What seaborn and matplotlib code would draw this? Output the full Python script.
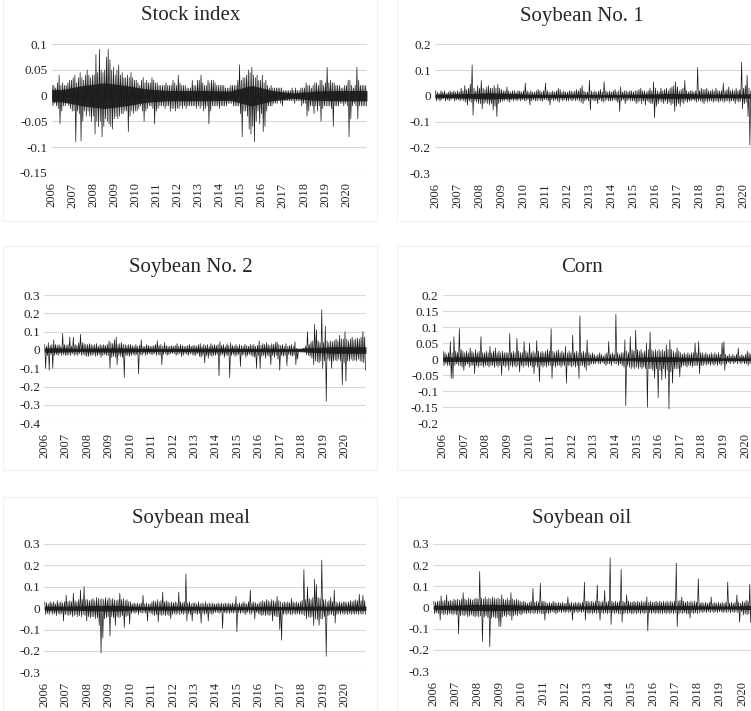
import numpy as np
import pandas as pd
import seaborn as sns
import matplotlib.pyplot as plt

# monthly high / low of the daily return series, in percent (2006-01 .. 2020-12)
stock_hi = [2, 2, 1.5, 2.5, 4, 2, 2.5, 2, 2, 2.5, 3, 3,
            3.5, 4, 2.5, 3.5, 4.5, 3.5, 3, 4, 5, 4, 3.5, 4,
            4, 8, 4.5, 9, 5, 4.5, 5, 7.5, 9, 7, 5, 5.5,
            4, 5, 6, 4, 4.5, 3.5, 3.5, 4, 3.5, 4.5, 3.5, 3,
            3, 2.5, 2, 3, 3.5, 2.5, 3, 2.5, 2.5, 3.5, 3, 2.5,
            2.5, 2, 2, 2, 2, 2.5, 2, 2, 2, 3, 2.5, 2,
            4, 2.5, 2, 2, 2, 1.5, 1.5, 1.5, 3, 2, 2, 3,
            3, 4, 2.5, 2, 2, 3, 2.5, 3, 3, 2.5, 2, 2,
            2, 2, 2, 1.5, 1.5, 1.5, 2, 2, 2, 2, 3, 6,
            3, 3.5, 3.5, 4, 5, 4.5, 5.5, 4, 3.5, 4, 3, 3,
            4, 2.5, 3, 2, 1.5, 2, 1.5, 1.5, 1.5, 1.5, 1.5, 1.5,
            1, 1, 1, 1, 1, 1.5, 1, 1.5, 1, 1, 1.5, 1.5,
            1.5, 2.5, 2, 2, 1.5, 2, 2.5, 2.5, 2, 3, 3, 2,
            2.5, 5.5, 2.5, 3, 2.5, 2.5, 2, 2, 2, 1.5, 1.5, 2,
            2, 3, 3, 2, 1.5, 2, 5.5, 3, 2, 2, 2, 2]
stock_lo = [-2, -1.5, -2, -2.5, -5.5, -3, -2, -2, -1.5, -2, -2.5, -3,
            -3, -9, -3, -3.5, -8.8, -5, -3, -4, -3, -4, -5, -4,
            -7.5, -5, -6, -5, -8, -6, -4.5, -5, -5.5, -6, -6.5, -4.5,
            -4, -4.5, -4, -3.5, -3.5, -3, -3, -7, -4, -3, -3.5, -3,
            -3, -2.5, -2, -3, -5, -3, -2.5, -2, -2, -2.5, -5.5, -3,
            -2.5, -2, -2, -2, -2.5, -2, -2, -3, -2.5, -2.5, -3, -2.5,
            -2.5, -2, -2.5, -2, -2.5, -2, -2, -2, -2, -2, -2.5, -2,
            -2.5, -2, -3, -2.5, -2, -5.5, -3, -2, -2, -2, -2, -2.5,
            -2, -2, -2, -2, -1.5, -1.5, -1.5, -2, -2, -2, -2, -3.5,
            -8, -3, -3, -4, -6.5, -7.5, -6, -9, -5, -3, -5.5, -3.5,
            -7, -6, -3, -2, -2, -2, -1.5, -1.5, -1.5, -1, -1.5, -2,
            -1, -1, -1, -1, -1, -1, -1.5, -1, -1, -1, -2, -1.5,
            -1.5, -4, -3, -2, -2, -3.5, -2, -3, -2, -5, -2.5, -2,
            -2, -2, -2, -2.5, -6, -2, -2, -2, -1.5, -1.5, -2, -1.5,
            -2, -8, -4.5, -2, -1.5, -2, -4.5, -2, -2, -2, -2, -2]

soy1_hi = [2, 1.5, 1, 2, 1.5, 2, 1, 1.5, 2, 1.5, 2, 1.5,
           2, 1.5, 3, 2, 4, 2.5, 3, 4.5, 12, 3, 2, 4,
           3, 6, 3, 2.5, 3.5, 4, 3, 3, 4, 3, 4.5, 3,
           2.5, 2, 2, 3.5, 2, 1.5, 2, 2, 1.5, 2, 2, 1.5,
           2, 5, 2, 1.5, 2, 1.5, 1.5, 2, 2.5, 2, 1.5, 2,
           5, 2, 1.5, 1.5, 2, 1.5, 2, 3, 2.5, 1.5, 2, 1.5,
           1.5, 2, 2, 1.5, 2, 2.5, 2, 3, 4, 2, 1.5, 1.5,
           6, 2, 1.5, 2, 1.5, 2, 2.5, 1.5, 5.5, 2, 1.5, 2,
           1.5, 2, 2.5, 1.5, 2, 3.5, 1.5, 2, 2, 1.5, 2, 2,
           1.5, 2, 2, 2.5, 3, 2, 2, 1.5, 2, 3, 2, 5.5,
           3, 2, 1.5, 3, 2, 2.5, 3, 2, 3, 3.5, 4, 5.5,
           3.5, 2, 2.5, 3, 6, 2, 1.5, 2, 2, 1.5, 2, 11,
           2, 3, 2.5, 2.5, 3, 2, 2, 2.5, 2, 3, 2, 2,
           2, 5, 2, 2.5, 3.5, 2, 2.5, 2, 3, 2, 2.5, 13,
           3, 4, 8, 3, 2, 2, 2, 2, 2, 2, 2, 2]
soy1_lo = [-2, -1.5, -2, -1.5, -1, -2, -1.5, -2, -1.5, -1, -2, -1.5,
           -1.5, -2, -1.5, -2, -2.5, -3.5, -2, -2.5, -7.5, -2, -2.5, -3,
           -3, -5, -3, -2.5, -3, -3.5, -3, -5.5, -4, -8, -3, -2.5,
           -2, -2, -1.5, -2, -2.5, -1.5, -2, -1.5, -2, -1.5, -2, -1.5,
           -2, -2, -1.5, -3.5, -2, -1.5, -2, -2, -1.5, -2, -2, -1.5,
           -1.5, -2, -3.5, -1.5, -2, -1.5, -2, -2.5, -1.5, -2, -1.5, -2,
           -2, -1.5, -2, -1.5, -2, -1.5, -2, -2.5, -3, -2, -1.5, -2,
           -5.5, -1.5, -2, -2, -3, -1.5, -2, -2.5, -2, -1.5, -2, -2,
           -2, -1.5, -2, -2.5, -6, -2, -1.5, -3, -2, -1.5, -2, -2,
           -2, -3, -2.5, -2, -3, -2, -3.5, -2, -2.5, -3, -3, -8.5,
           -4, -3, -2, -2.5, -3, -2, -3, -2.5, -3.5, -3, -6, -4,
           -3, -4, -2.5, -3, -2, -2.5, -2, -2, -1.5, -2, -2.5, -2,
           -2, -2.5, -3, -2, -2.5, -2, -2, -2.5, -2, -2, -2.5, -2,
           -2, -2.5, -2, -2, -2.5, -2, -2, -3, -2, -2.5, -2, -5,
           -3, -2.5, -8, -19, -3, -2, -2, -2, -2, -2, -2, -2]

soy2_hi = [3, 2, 4, 2.5, 3, 5.5, 3, 2.5, 3, 2, 9, 3,
           2.5, 3, 7, 2, 7, 3, 2.5, 4, 8.5, 4, 3.5, 3,
           3, 3.5, 3, 2.5, 3, 3.5, 2, 3, 2.5, 3, 2.5, 3,
           5, 4, 3.5, 5.5, 7, 3, 3.5, 4, 3, 3, 2.5, 3,
           3, 2.5, 2, 3, 2, 2.5, 5.5, 2, 2, 3, 2.5, 2,
           2, 2.5, 3, 5, 2.5, 3, 2, 4, 2.5, 2, 2, 2.5,
           2, 2.5, 3.5, 2, 3, 2.5, 2, 2, 2.5, 3, 2, 2.5,
           2.5, 2, 3, 3.5, 2, 3, 2.5, 3, 2, 3.5, 2.5, 3,
           2.5, 3, 4.5, 2.5, 3, 2, 3.5, 2.5, 4, 2.5, 2, 3,
           2, 3, 2.5, 2, 3, 2.5, 2, 3, 2.5, 3, 2, 2.5,
           5, 2.5, 3.5, 3, 4, 3, 2.5, 3.5, 3, 4, 4.5, 3,
           2.5, 3, 2, 3.5, 2, 2.5, 3, 2, 4.5, 1, 0.5, 0.5,
           0.5, 1, 2, 10, 3, 4.5, 5, 14, 11, 5, 4, 22,
           4, 13, 5, 4, 5, 4.5, 5, 6, 5, 8, 6, 6,
           10, 6, 5, 6, 7, 5.5, 6, 6.5, 6, 7, 10, 7]
soy2_lo = [-10, -3, -11, -2.5, -10, -3, -2.5, -3, -2, -3, -2.5, -3,
           -3, -2.5, -3, -2, -3, -2.5, -3, -2, -3, -2.5, -3, -3.5,
           -3.5, -3, -3, -2.5, -3.5, -3, -2.5, -4, -3, -2.5, -3, -3,
           -10, -4, -3.5, -4, -8, -3, -3.5, -4, -15, -3, -3, -3.5,
           -3, -2.5, -3, -2.5, -13, -2.5, -3, -2, -3, -2.5, -2, -2.5,
           -2.5, -2, -3, -2.5, -3, -8, -2.5, -2, -3, -2.5, -2, -2,
           -2, -3, -2.5, -2, -3.5, -3, -2, -2.5, -3, -2, -2.5, -3,
           -3, -2, -3.5, -4, -3, -7, -3, -4.5, -3, -3.5, -3, -3,
           -2.5, -14, -3, -2.5, -4, -3, -3, -15, -3, -2.5, -3.5, -3,
           -2.5, -9, -3, -2.5, -4, -3, -2.5, -3, -3.5, -4, -10, -3,
           -10, -3.5, -3, -4.5, -3, -3.5, -8, -3, -4, -3, -5, -11,
           -3, -3.5, -3, -8.5, -2.5, -3, -3.5, -3, -8, -5, -0.5, -0.5,
           -0.5, -1, -2.5, -3, -3.5, -4.5, -8, -6, -6.5, -7, -6, -10,
           -6, -28, -5, -6, -10, -6, -5.5, -6, -5, -6, -19, -7,
           -17, -6, -6, -5, -6, -5.5, -6, -5, -6, -6.5, -7, -11]

corn_hi = [2.5, 2, 1.5, 2, 5.5, 2, 7, 2.5, 2, 9.5, 3, 2.5,
           2, 2.5, 2, 3.5, 2.5, 2, 3, 2, 2.5, 7, 2, 2,
           2.5, 2, 4, 2, 2.5, 3.5, 2, 2.5, 2, 2.5, 2, 2,
           2, 8, 2, 2.5, 2, 6.5, 2.5, 2, 2, 5.5, 2.5, 2,
           5, 2, 2.5, 2, 5.8, 2.5, 2, 2.5, 2, 2.5, 3, 2.5,
           9.5, 2.5, 2, 2.5, 3, 2, 2.5, 2, 4, 2, 2.5, 2,
           7.5, 2, 2.5, 2, 13.5, 2, 2.5, 2, 6, 2, 1.5, 2,
           1.5, 1, 1.5, 2, 1.5, 1, 1.5, 2, 5.5, 1.5, 2, 1.5,
           14, 2, 1.5, 2, 2, 6, 2.5, 2, 7, 3, 2.5, 9,
           3, 2.5, 3, 2, 2.5, 5, 3, 8.5, 3, 2.5, 3, 2.5,
           3, 2.5, 3, 2.5, 4.5, 3, 6, 3, 2.5, 2, 3.5, 2.5,
           2, 1.5, 2, 1.5, 2, 1.5, 2, 2, 5, 2, 5.5, 2,
           2, 1.5, 2, 1.5, 1.5, 2, 1.5, 2, 1.5, 2, 1.5, 5,
           5.5, 1.5, 1, 1.5, 1, 1.5, 1, 1.5, 3.5, 1, 1.5, 1,
           1.5, 2.5, 2, 1.5, 2, 1.5, 2, 1.5, 2, 1.5, 2, 1.5]
corn_lo = [-2, -1.5, -2, -2, -6, -6, -2, -1.5, -2, -2, -2.5, -3.5,
           -2, -1.5, -2.5, -2, -2, -4.5, -2, -2.5, -2, -2, -2.5, -2,
           -2, -2.5, -2, -2, -2.5, -2, -2.5, -2, -5, -2, -2.5, -2,
           -3.5, -2, -2.5, -2, -2.5, -2, -4, -2, -2.5, -2, -2, -2.5,
           -2, -2.5, -4.5, -2, -2.5, -7, -2, -2.5, -2, -2.5, -2, -2,
           -6, -2, -2.5, -2, -2, -2.5, -2, -2, -7.5, -2, -2, -2.5,
           -2, -2.5, -2, -6, -2, -2, -2.5, -3.5, -2, -2, -1.5, -1.5,
           -1.5, -1, -1.5, -1.5, -1, -1.5, -2, -1.5, -1.5, -2, -1, -1.5,
           -1.5, -2, -1.5, -2, -2.5, -14.5, -2, -2.5, -3, -2.5, -3, -2.5,
           -3, -2.5, -3, -2.5, -3, -15, -3, -3, -3.5, -6, -3, -12,
           -3.5, -6.5, -3, -6, -3.5, -15.5, -4, -7.5, -3, -3, -3, -5.5,
           -2.5, -2, -2, -2.5, -2, -2, -2.5, -2, -2, -2, -4.5, -2,
           -2, -1.5, -2, -1.5, -2, -1.5, -2, -1.5, -2, -1.5, -2, -1.5,
           -3.5, -1.5, -1, -1.5, -1, -1.5, -1, -1.5, -1, -1.5, -1, -1.5,
           -1.5, -2, -1.5, -2, -1.5, -2, -1.5, -2, -1.5, -2, -1.5, -2]

meal_hi = [3, 2.5, 2, 3, 2.5, 3, 2, 3.5, 2.5, 3, 2.5, 3,
           6, 3, 3.5, 3, 7, 3.5, 3, 4, 8.5, 4, 10, 4,
           4, 3.5, 4, 4.5, 3.5, 5, 4.5, 4, 4.5, 4, 5, 4,
           5, 4, 4.5, 4, 3.5, 4, 7, 4, 4.5, 3.5, 4, 3,
           3, 2, 2.5, 2, 2.5, 2, 2.5, 6, 2, 2.5, 2, 2,
           3, 3.5, 3, 4, 3, 3.5, 7.5, 3, 3.5, 3, 2.5, 3,
           2.5, 3, 2.5, 7.5, 3, 2.5, 3, 16, 2.5, 3, 2, 2.5,
           2.5, 2, 3, 2, 2.5, 2, 3, 2, 2.5, 2, 2.5, 2,
           2, 2.5, 2, 2.5, 2, 2.5, 2, 2.5, 2, 2.5, 2, 5.5,
           2, 2.5, 2, 3, 2.5, 2, 3, 8.5, 2.5, 3, 2.5, 2,
           2.5, 3, 3.5, 3, 4, 3.5, 3, 4, 3.5, 3, 5.5, 3.5,
           3, 2.5, 3, 2.5, 3, 2.5, 4.5, 3, 2.5, 3, 2.5, 3,
           3.5, 18, 4, 10, 4.5, 4, 5, 13.5, 11, 5, 4.5, 22.5,
           4, 4, 3, 3.5, 5, 3, 8.5, 3, 2.5, 3, 2.5, 3,
           3, 2.5, 3, 3.5, 3, 3.5, 4, 3.5, 6.5, 3.5, 6, 3.5]
meal_lo = [-3, -2.5, -3, -2, -3, -2.5, -3.5, -2.5, -3, -2.5, -6, -3,
           -3, -3.5, -3, -4, -3.5, -3, -4, -3.5, -4, -3, -3.5, -6,
           -4, -4.5, -4, -4, -5, -4.5, -8, -21, -14, -5, -4.5, -4,
           -13, -4, -4.5, -8, -4, -4.5, -4, -3.5, -9, -4, -3.5, -7.5,
           -2.5, -2, -2.5, -2, -3, -2, -2.5, -2, -2.5, -6, -2, -2.5,
           -3, -3.5, -3, -6.5, -3, -3.5, -3, -3.5, -3, -3.5, -5, -3,
           -2.5, -3, -2.5, -3, -2.5, -3, -2.5, -6, -2.5, -3, -6, -2.5,
           -2.5, -3, -2.5, -7, -2.5, -3, -2.5, -6, -2.5, -3, -2.5, -2,
           -2, -2.5, -2, -9.5, -2, -2.5, -2, -2.5, -2, -2.5, -2, -11,
           -2, -2.5, -2, -2.5, -3, -2, -2.5, -3, -2, -5, -2, -2.5,
           -3, -3.5, -3, -3.5, -3, -3.5, -3, -6, -3.5, -4, -4, -10,
           -15, -3, -2.5, -3, -2.5, -3, -3, -2.5, -3, -2.5, -3, -2.5,
           -3, -3.5, -5, -4, -4.5, -4, -8, -5, -5.5, -8, -5, -5,
           -4, -22.5, -3.5, -3, -3, -3.5, -7, -3, -2.5, -3, -2.5, -3,
           -2.5, -3, -2.5, -3, -2.5, -3, -2.5, -3, -2.5, -3, -2.5, -3]

oil_hi = [3, 2.5, 3, 3, 5.5, 3, 3.5, 6, 3, 3.5, 3, 4,
          3.5, 4, 3.5, 4, 7, 4, 3.5, 4.5, 4, 3.5, 4, 4.5,
          4, 17, 4.5, 4, 5, 4, 4.5, 4, 5, 4.5, 4, 4.5,
          4, 6, 4, 3.5, 4.5, 3.5, 7, 4, 3.5, 4, 3.5, 3,
          2.5, 3, 2.5, 2, 2.5, 3, 9, 2.5, 3, 2.5, 11.5, 3,
          3, 2.5, 2, 2.5, 2, 3, 2.5, 2, 2.5, 2, 2.5, 2,
          2, 5, 2, 2.5, 2, 2.5, 2, 2.5, 2, 2.5, 12, 3,
          3, 2.5, 3, 2.5, 3, 10.5, 3, 2.5, 3, 8, 2.5, 3,
          23.5, 3, 2.5, 3, 2.5, 3, 18, 3, 2.5, 6, 3, 2.5,
          2.5, 3, 2.5, 3, 2.5, 3, 2.5, 3, 5, 2.5, 3, 2.5,
          2.5, 3, 2.5, 3, 2.5, 3, 2.5, 3, 2.5, 3, 2.5, 3,
          21, 3, 3.5, 5, 3, 2.5, 3, 2.5, 3, 2.5, 3, 2.5,
          13.5, 2, 2.5, 2, 2.5, 2, 2.5, 5, 2, 2.5, 2, 2.5,
          2, 2.5, 2, 2.5, 12, 2, 2.5, 2, 2.5, 6, 2.5, 2,
          3, 2.5, 3.5, 3, 11, 3, 3.5, 3, 3.5, 3, 3.5, 3]
oil_lo = [-3, -2.5, -3, -6, -3, -3.5, -3, -3.5, -3, -3, -3.5, -3,
          -3.5, -12.5, -4, -3.5, -4, -3.5, -4.5, -4, -3.5, -4, -4.5, -4,
          -4.5, -4, -16, -4.5, -4, -5, -18.5, -5, -4.5, -5, -5, -9,
          -9, -4.5, -4, -4.5, -3.5, -4, -6, -4, -3.5, -4, -3, -3.5,
          -3, -2.5, -3, -2.5, -3, -2.5, -3, -2.5, -3, -2.5, -3, -3,
          -6, -2.5, -3, -2.5, -2, -2.5, -3, -2.5, -2, -2.5, -2, -2.5,
          -2, -2.5, -2, -6, -2.5, -2, -2.5, -2, -2.5, -2, -6, -2.5,
          -3, -2.5, -3, -2.5, -3, -2.5, -6, -2.5, -3, -2.5, -3, -2.5,
          -8, -2.5, -3, -2.5, -3, -3, -7, -3, -2.5, -3, -2.5, -3,
          -3, -2.5, -3, -2.5, -3, -2.5, -3, -2.5, -11, -2.5, -3, -2.5,
          -3, -2.5, -3, -2.5, -3, -2.5, -3, -2.5, -3, -2.5, -3, -2.5,
          -9, -3, -2.5, -3, -2.5, -3, -3, -5, -2.5, -3, -2.5, -3,
          -2.5, -2, -2.5, -2, -2.5, -2, -2.5, -2, -2.5, -2, -2.5, -2,
          -2, -2.5, -2, -2.5, -2, -2.5, -2, -2.5, -2, -2.5, -7, -2,
          -3.5, -3, -3.5, -3, -7, -3, -3.5, -3, -3.5, -3, -3.5, -3]

# typical daily swing (dense dark core) per year, in percent, 2006..2020
stock_core = [1.2, 2, 2.5, 2, 1.3, 1, 1, 1, 0.9, 2, 1, 0.5, 0.9, 1, 1]
soy1_core = [0.7, 0.9, 1.2, 0.9, 0.6, 0.6, 0.6, 0.5, 0.5, 0.7, 0.9, 0.9, 0.7, 0.7, 0.9]
soy2_core = [1.2, 0.9, 1, 1.2, 0.9, 0.8, 0.8, 1, 1, 0.8, 1, 0.7, 1.3, 1.8, 1.8]
corn_core = [0.7, 0.7, 0.5, 0.5, 0.7, 0.5, 0.5, 0.4, 0.4, 0.7, 0.8, 0.5, 0.5, 0.4, 0.5]
meal_core = [0.9, 1, 1.3, 1.3, 0.7, 0.9, 0.9, 0.7, 0.7, 0.7, 0.9, 0.7, 1, 0.9, 1]
oil_core = [1, 1.3, 1.5, 1.3, 0.9, 0.9, 0.7, 0.9, 0.9, 0.9, 0.9, 0.9, 0.7, 0.7, 1]

titles = ["Stock index", "Soybean No. 1", "Soybean No. 2", "Corn", "Soybean meal", "Soybean oil"]
years = list(range(2006, 2021))

sns.set_theme(style="white")
plt.rcParams['font.family'] = ['Liberation Serif', 'DejaVu Serif']

W, H = 751, 711
fig = plt.figure(figsize=(W / 100, H / 100), dpi=100)

# (hi, lo, core, y ticks, plot box in px: left, top, right, bottom, title centre)
panels = [
    (stock_hi, stock_lo, stock_core, [0.1, 0.05, 0, -0.05, -0.1, -0.15], (51.7, 44.3, 367, 172.7), (191, 16)),
    (soy1_hi, soy1_lo, soy1_core, [0.2, 0.1, 0, -0.1, -0.2, -0.3], (435, 44.3, 765, 173.3), (582, 17)),
    (soy2_hi, soy2_lo, soy2_core, [0.3, 0.2, 0.1, 0, -0.1, -0.2, -0.3, -0.4], (44.3, 295, 366, 423.3), (191, 267)),
    (corn_hi, corn_lo, corn_core, [0.2, 0.15, 0.1, 0.05, 0, -0.05, -0.1, -0.15, -0.2], (442.7, 295, 766.6, 423.3), (582, 268)),
    (meal_hi, meal_lo, meal_core, [0.3, 0.2, 0.1, 0, -0.1, -0.2, -0.3], (44.3, 544, 366, 672.3), (191, 518)),
    (oil_hi, oil_lo, oil_core, [0.3, 0.2, 0.1, 0, -0.1, -0.2, -0.3], (433.3, 544, 764, 671), (582, 518)),
]

# faint chart-area borders
for (x0, y0, x1, y1) in [(3, -5, 377, 221), (397, -5, 760, 221), (3, 246, 377, 470),
                         (397, 246, 760, 470), (3, 497, 377, 720), (397, 497, 760, 720)]:
    fig.add_artist(plt.Rectangle((x0 / W, 1 - y1 / H), (x1 - x0) / W, (y1 - y0) / H,
                                 transform=fig.transFigure, fill=False, ec='#f0f0f0', lw=0.8))

t = 2006 + (np.arange(360) + 0.5) / 24
tc_x = [2006] + [y + 0.5 for y in years] + [2021]

for (hi, lo, core, yt, box, tc), title in zip(panels, titles):
    l, tp, r, b = box
    ax = fig.add_axes([l / W, 1 - b / H, (r - l) / W, (b - tp) / H])
    vals = np.column_stack([hi, lo]).ravel() / 100
    df = pd.DataFrame({'t': t, 'ret': vals})
    c = np.array(core[:1] + core + core[-1:]) / 100
    ax.fill_between(tc_x, -c, c, color='black', lw=0, alpha=0.8)
    sns.lineplot(data=df, x='t', y='ret', ax=ax, color='#1a1a1a', linewidth=0.5,
                 estimator=None, sort=False)
    ax.set_xlim(2006, 2021)
    ax.set_ylim(min(yt), max(yt))
    ax.set_yticks(yt)
    ax.set_yticklabels([f"{round(v, 2):g}" for v in yt], fontsize=9.5)
    ax.set_xticks(years)
    ax.set_xticklabels([str(y) for y in years], rotation=90, fontsize=9)
    ax.tick_params(axis='both', length=0)
    ax.tick_params(axis='y', pad=3)
    ax.tick_params(axis='x', pad=7)
    ax.grid(axis='y', color='#d9d9d9', lw=0.8)
    ax.grid(axis='x', visible=False)
    ax.set_axisbelow(True)
    for s in ax.spines.values():
        s.set_visible(False)
    ax.set_xlabel('')
    ax.set_ylabel('')
    fig.text(tc[0] / W, 1 - tc[1] / H, title, ha='center', va='center', fontsize=15)

fig.savefig('out.png', dpi=100)
